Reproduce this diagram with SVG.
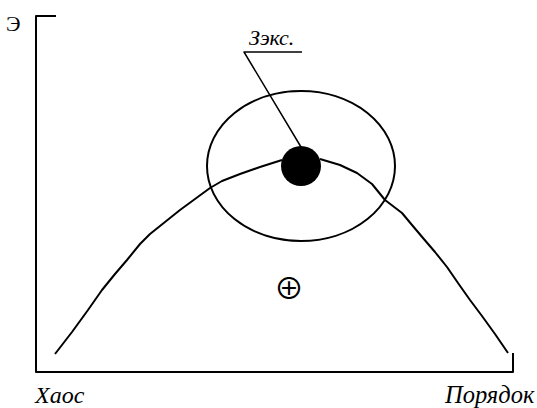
<svg xmlns="http://www.w3.org/2000/svg" width="537" height="408" viewBox="0 0 537 408">
<style>
.ln{fill:none;stroke:#000;stroke-width:2;stroke-linejoin:round;stroke-linecap:butt}
</style>
<rect width="537" height="408" fill="#fff"/>
<g id="axes">
<path class="ln" d="M56,16 H36 V372 H513 V353"/>
<text x="6" y="31" font-family="Liberation Serif, DejaVu Serif, serif" font-size="22">Э</text>
<text x="35" y="403" font-family="Liberation Serif, DejaVu Serif, serif" font-style="italic" font-size="24">Хаос</text>
<text x="445" y="403" font-family="Liberation Serif, DejaVu Serif, serif" font-style="italic" font-size="24.5">Порядок</text>
</g>
<g id="curve">
<path class="ln" d="M55,354 L72,332 L88,310 L102,290 L115,274 L127,260 L140,244 L150,234 L165,222 L180,210 L195,199 L210,188 L222,181 L240,174 L260,167 L282,160 M320,159 L340,165 L357,173 L372,184 L385,200 L402,213 L412,225 L423,238 L435,252 L447,267 L458,283 L470,300 L482,316 L495,334 L508,353"/>
</g>
<g id="ellipse">
<ellipse class="ln" cx="301" cy="166" rx="94" ry="75"/>
</g>
<g id="point">
<circle cx="301" cy="166" r="20" fill="#000"/>
</g>
<g id="label">
<path class="ln" d="M302,52 H244 L301,147" style="stroke-width:1.5"/>
<text x="249" y="45" font-family="Liberation Serif, DejaVu Serif, serif" font-style="italic" font-size="22">Зэкс.</text>
</g>
<g id="symbol">
<text x="289" y="299" text-anchor="middle" font-family="Noto Sans CJK SC, DejaVu Sans, sans-serif" font-size="30">⊕</text>
</g>
</svg>
